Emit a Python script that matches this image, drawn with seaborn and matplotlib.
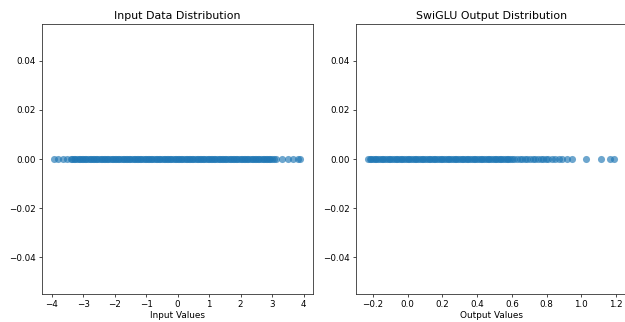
import matplotlib.pyplot as plt
import numpy as np
import seaborn as sns

# input values (all plotted at y = 0)
input_low_tail = [-3.93, -3.80, -3.66, -3.53]
input_edge_low = [-3.40, -3.35, -3.30, -3.25, -3.20, -3.15, -3.10, -3.05,
                  -3.00, -2.95, -2.90, -2.85, -2.80, -2.75, -2.70, -2.65,
                  -2.60, -2.55]
input_core = [
    -2.50, -2.45, -2.40, -2.35, -2.30, -2.25, -2.20, -2.15, -2.10, -2.05,
    -2.00, -1.95, -1.90, -1.85, -1.80, -1.75, -1.70, -1.65, -1.60, -1.55,
    -1.50, -1.45, -1.40, -1.35, -1.30, -1.25, -1.20, -1.15, -1.10, -1.05,
    -1.00, -0.95, -0.90, -0.85, -0.80, -0.75, -0.70, -0.65, -0.60, -0.55,
    -0.50, -0.45, -0.40, -0.35, -0.30, -0.25, -0.20, -0.15, -0.10, -0.05,
    0.00, 0.05, 0.10, 0.15, 0.20, 0.25, 0.30, 0.35, 0.40, 0.45,
    0.50, 0.55, 0.60, 0.65, 0.70, 0.75, 0.80, 0.85, 0.90, 0.95,
    1.00, 1.05, 1.10, 1.15, 1.20, 1.25, 1.30, 1.35, 1.40, 1.45,
    1.50, 1.55, 1.60, 1.65, 1.70, 1.75, 1.80, 1.85, 1.90, 1.95,
    2.00, 2.05, 2.10, 2.15, 2.20, 2.25, 2.30, 2.35, 2.40,
]
input_edge_high = [2.45, 2.50, 2.55, 2.60, 2.65, 2.70, 2.75, 2.80, 2.85,
                   2.90, 2.95, 3.00, 3.05, 3.11]
input_high_tail = [3.32, 3.50, 3.67, 3.84, 3.90]

# SwiGLU outputs
output_core = [
    -0.229, -0.22, -0.21, -0.20, -0.19, -0.18, -0.17, -0.16, -0.15, -0.14,
    -0.13, -0.12, -0.11, -0.10, -0.09, -0.08, -0.07, -0.06, -0.05, -0.04,
    -0.03, -0.02, -0.01, 0.00, 0.01, 0.02, 0.03, 0.04, 0.05, 0.06,
    0.07, 0.08, 0.09, 0.10, 0.11, 0.12, 0.13, 0.14, 0.15, 0.16,
    0.17, 0.18, 0.19, 0.20, 0.21, 0.22, 0.23, 0.24, 0.25, 0.26,
    0.27, 0.28, 0.29, 0.30, 0.31, 0.32, 0.33, 0.34, 0.35, 0.36,
    0.37, 0.38, 0.39, 0.40, 0.41, 0.42, 0.43, 0.44, 0.45, 0.46,
    0.47, 0.48, 0.49, 0.50, 0.51, 0.52, 0.53, 0.54, 0.55, 0.56,
    0.57, 0.58, 0.59,
]
output_sparse = [0.60, 0.615, 0.63, 0.645, 0.66, 0.675, 0.69, 0.705, 0.72,
                 0.735, 0.75, 0.765, 0.78, 0.795, 0.81, 0.83, 0.85, 0.87,
                 0.89, 0.916]
output_tail = [0.945, 1.027, 1.112, 1.166, 1.19]

inputs = np.array(input_low_tail + input_edge_low + input_core
                  + input_edge_high + input_high_tail)
outputs = np.array(output_core + output_sparse + output_tail)

plt.rcParams["font.family"] = ["DejaVu Sans"]
fig = plt.figure(figsize=(6.25, 3.22), dpi=100)
ax1 = fig.add_axes([0.0667, 0.0876, 0.4336, 0.8372])
ax2 = fig.add_axes([0.569, 0.0876, 0.4336, 0.8372])

blue = "#1f77b4"
panels = [
    (ax1, inputs, "Input Data Distribution", "Input Values"),
    (ax2, outputs, "SwiGLU Output Distribution", "Output Values"),
]
for ax, vals, title, xlabel in panels:
    sns.scatterplot(x=vals, y=np.zeros_like(vals), ax=ax, s=26, color=blue,
                    linewidth=0, alpha=0.65)
    ax.collections[0].set_snap(False)
    ax.set_title(title, fontsize=7.9, pad=4)
    ax.set_xlabel(xlabel, fontsize=6.4, labelpad=2)
    ax.tick_params(labelsize=6.3, length=2.2, width=0.5, pad=2)
    for sp in ax.spines.values():
        sp.set_linewidth(0.6)
        sp.set_color("#333333")

ax1.set_xticks([-4, -3, -2, -1, 0, 1, 2, 3, 4])

fig.savefig("out.png", dpi=100)
